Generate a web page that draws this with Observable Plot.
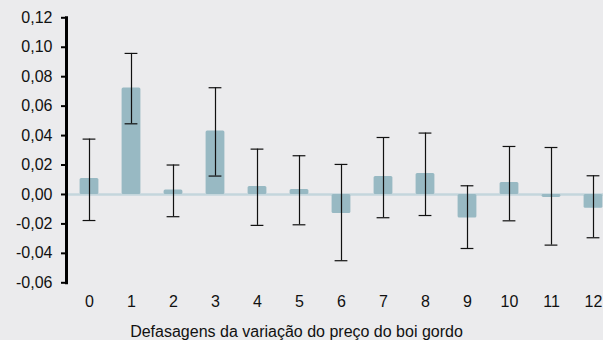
<!DOCTYPE html>
<html><head><meta charset="utf-8">
<script src="https://cdn.jsdelivr.net/npm/d3@7"></script>
<script src="https://cdn.jsdelivr.net/npm/@observablehq/plot@0.6"></script>
<style>
body{margin:0;background:#ebebed;}
#chart{width:603px;height:340px;overflow:hidden;background:#ebebed;font-family:"Liberation Sans",Arial,sans-serif;color:#111;}
#chart svg{display:block;max-width:none !important;}
#caption{width:593px;padding-right:10px;text-align:center;font-size:16px;line-height:18px;margin-top:8.5px;}
</style></head><body><div id="chart"></div>
<script>
const lags  = [0, 1, 2, 3, 4, 5, 6, 7, 8, 9, 10, 11, 12];
const coef  = [0.0109, 0.0723, 0.0030, 0.0431, 0.0054, 0.0034, -0.0129, 0.0122, 0.0143, -0.0160, 0.0082, -0.0020, -0.0093];
const lower = [-0.0177, 0.0480, -0.0151, 0.0125, -0.0210, -0.0206, -0.0450, -0.0158, -0.0143, -0.0367, -0.0179, -0.0344, -0.0294];
const upper = [0.0376, 0.0958, 0.0200, 0.0725, 0.0308, 0.0263, 0.0204, 0.0387, 0.0417, 0.0059, 0.0326, 0.0319, 0.0127];
const yTicks = [-0.06, -0.04, -0.02, 0.00, 0.02, 0.04, 0.06, 0.08, 0.10, 0.12];
const xLabel = "Defasagens da variação do preço do boi gordo";

const rows = lags.map((lag, i) => ({lag, coef: coef[i], lower: lower[i], upper: upper[i]}));
const fmt = v => v.toFixed(2).replace(".", ",");

const plot = Plot.plot({
  width: 616, height: 314,
  marginLeft: 66, marginRight: 0, marginTop: 17.3, marginBottom: 31.7,
  style: {background: "transparent", fontFamily: "'Liberation Sans', Arial, sans-serif", fontSize: "16px", color: "#111", maxWidth: "none"},
  x: {type: "band", domain: lags, padding: 0, label: null},
  y: {domain: [-0.06, 0.12], label: null},
  marks: [
    Plot.ruleY([0], {stroke: "#c4d6dc", strokeWidth: 2.5}),
    Plot.barY(rows, {x: "lag", y: "coef", fill: "#98b9c3", insetLeft: 11.6, insetRight: 11.6, rx: 1.5}),
    Plot.ruleX(rows, {x: "lag", y1: "lower", y2: "upper", stroke: "#111", strokeWidth: 1.2}),
    Plot.tickY(rows, {x: "lag", y: "lower", insetLeft: 14.6, insetRight: 14.6, stroke: "#111", strokeWidth: 1.2}),
    Plot.tickY(rows, {x: "lag", y: "upper", insetLeft: 14.6, insetRight: 14.6, stroke: "#111", strokeWidth: 1.2}),
    Plot.axisY({ticks: yTicks, tickFormat: fmt, tickSize: 5, tickPadding: 9, stroke: "#000", strokeWidth: 2, label: null}),
    Plot.frame({anchor: "left", stroke: "#000", strokeWidth: 3}),
    Plot.axisX({tickSize: 0, tickPadding: 12.7, label: null})
  ]
});
const chart = document.getElementById("chart");
chart.appendChild(plot);
const cap = document.createElement("div");
cap.id = "caption";
cap.textContent = xLabel;
chart.appendChild(cap);
</script>
</body></html>
